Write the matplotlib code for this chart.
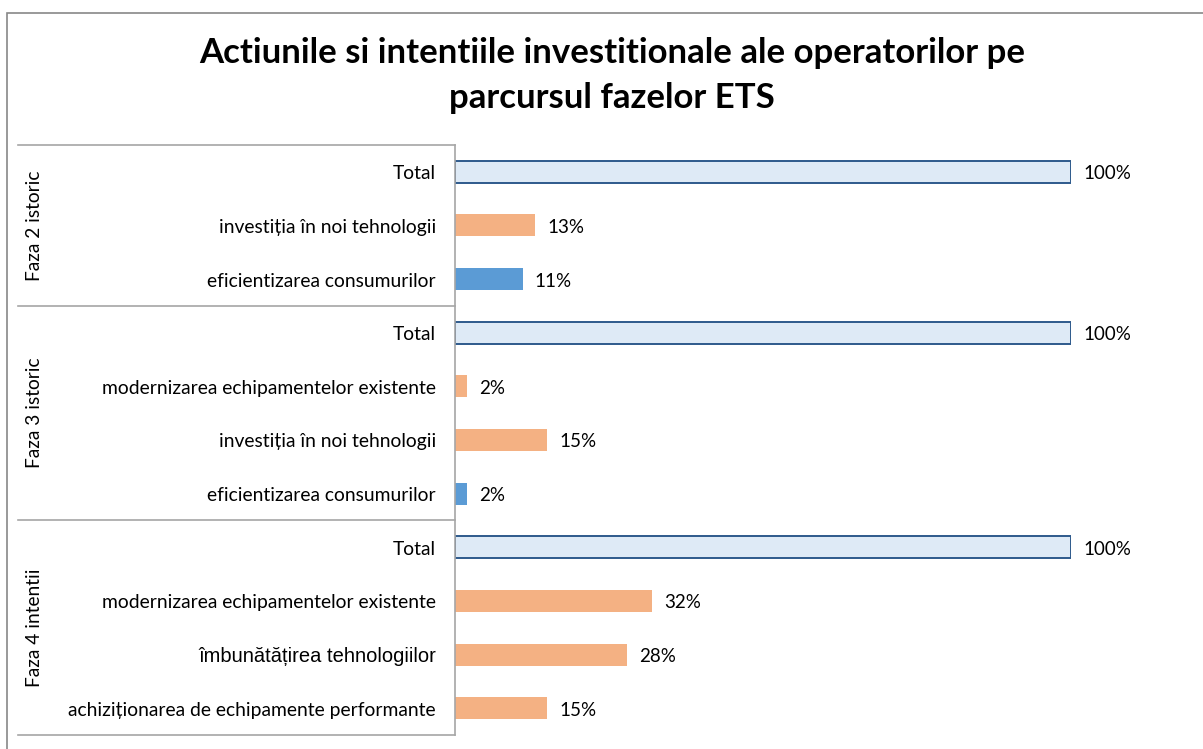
import matplotlib
matplotlib.use("Agg")
import matplotlib.pyplot as plt
from matplotlib.patches import Rectangle
from matplotlib.lines import Line2D

# ---- data ----
title = "Actiunile si intentiile investitionale ale operatorilor pe\nparcursul fazelor ETS"
groups = ["Faza 2 istoric", "Faza 3 istoric", "Faza 4 intentii"]
group_sizes = [3, 4, 4]
categories = [
    "Total", "investiția în noi tehnologii", "eficientizarea consumurilor",
    "Total", "modernizarea echipamentelor existente", "investiția în noi tehnologii",
    "eficientizarea consumurilor",
    "Total", "modernizarea echipamentelor existente", "îmbunătățirea tehnologiilor",
    "achiziționarea de echipamente performante",
]
values = [100, 13, 11, 100, 2, 15, 2, 100, 32, 28, 15]
kinds = ["total", "orange", "blue", "total", "orange", "orange", "blue",
         "total", "orange", "orange", "orange"]

W, H = 1203, 749
fig = plt.figure(figsize=(W / 100, H / 100), dpi=100)

FONT = ["Lato", "DejaVu Sans"]

def fx(px):
    return px / W

def fy(py):
    return 1 - py / H

ax_left, ax_right, ax_top, ax_bottom = 455, 1071, 145, 735
ax = fig.add_axes([fx(ax_left), fy(ax_bottom), fx(ax_right - ax_left), (ax_bottom - ax_top) / H])
n = len(categories)
ax.set_xlim(0, 100)
ax.set_ylim(n - 0.5, -0.5)
ax.axis("off")

styles = {
    "total": dict(color="#DEEAF6", edgecolor="#2E5A8C", linewidth=1.4),
    "orange": dict(color="#F4B183", edgecolor="none"),
    "blue": dict(color="#5B9BD5", edgecolor="none"),
}
for i, (v, k) in enumerate(zip(values, kinds)):
    ax.barh(i, v, height=0.41, **styles[k])
    ax.annotate(f"{v}%", xy=(v, i), xytext=(12, -2), textcoords="offset pixels",
                va="center", ha="left", fontsize=13.5, family=FONT, color="#000000")
    special = "îmbun" in categories[i]
    fam = ["Liberation Sans", "DejaVu Sans"] if special else FONT
    fs = 14.5 if special else 13.9
    ax.annotate(categories[i], xy=(0, i), xytext=(-19, -2), textcoords="offset pixels",
                va="center", ha="right", fontsize=fs, family=fam, color="#000000",
                annotation_clip=False)

# vertical axis line
fig.add_artist(Line2D([fx(ax_left)] * 2, [fy(ax_top), fy(ax_bottom)], color="#A6A6A6", lw=1.2))
# group separator lines and group labels
row_h = (ax_bottom - ax_top) / n
start = 0
bounds = [ax_top]
for g, s in zip(groups, group_sizes):
    y0 = ax_top + start * row_h
    y1 = ax_top + (start + s) * row_h
    bounds.append(y1)
    fig.text(fx(34), fy((y0 + y1) / 2), g, rotation=90, ha="center", va="center",
             fontsize=13.8, family=FONT)
    start += s
for b in bounds:
    fig.add_artist(Line2D([fx(18), fx(ax_left)], [fy(b)] * 2, color="#A6A6A6", lw=1.2))

# chart border
fig.add_artist(Rectangle((fx(7), fy(800)), fx(1300), (800 - 13) / H, fill=False,
                         edgecolor="#888888", lw=1.2))

fig.text(fx(612), fy(53), title.split("\n")[0], ha="center", va="center", fontsize=25,
         fontweight="bold", family=FONT)
fig.text(fx(612), fy(98), title.split("\n")[1], ha="center", va="center", fontsize=25,
         fontweight="bold", family=FONT)

fig.savefig("out.png", dpi=100)
